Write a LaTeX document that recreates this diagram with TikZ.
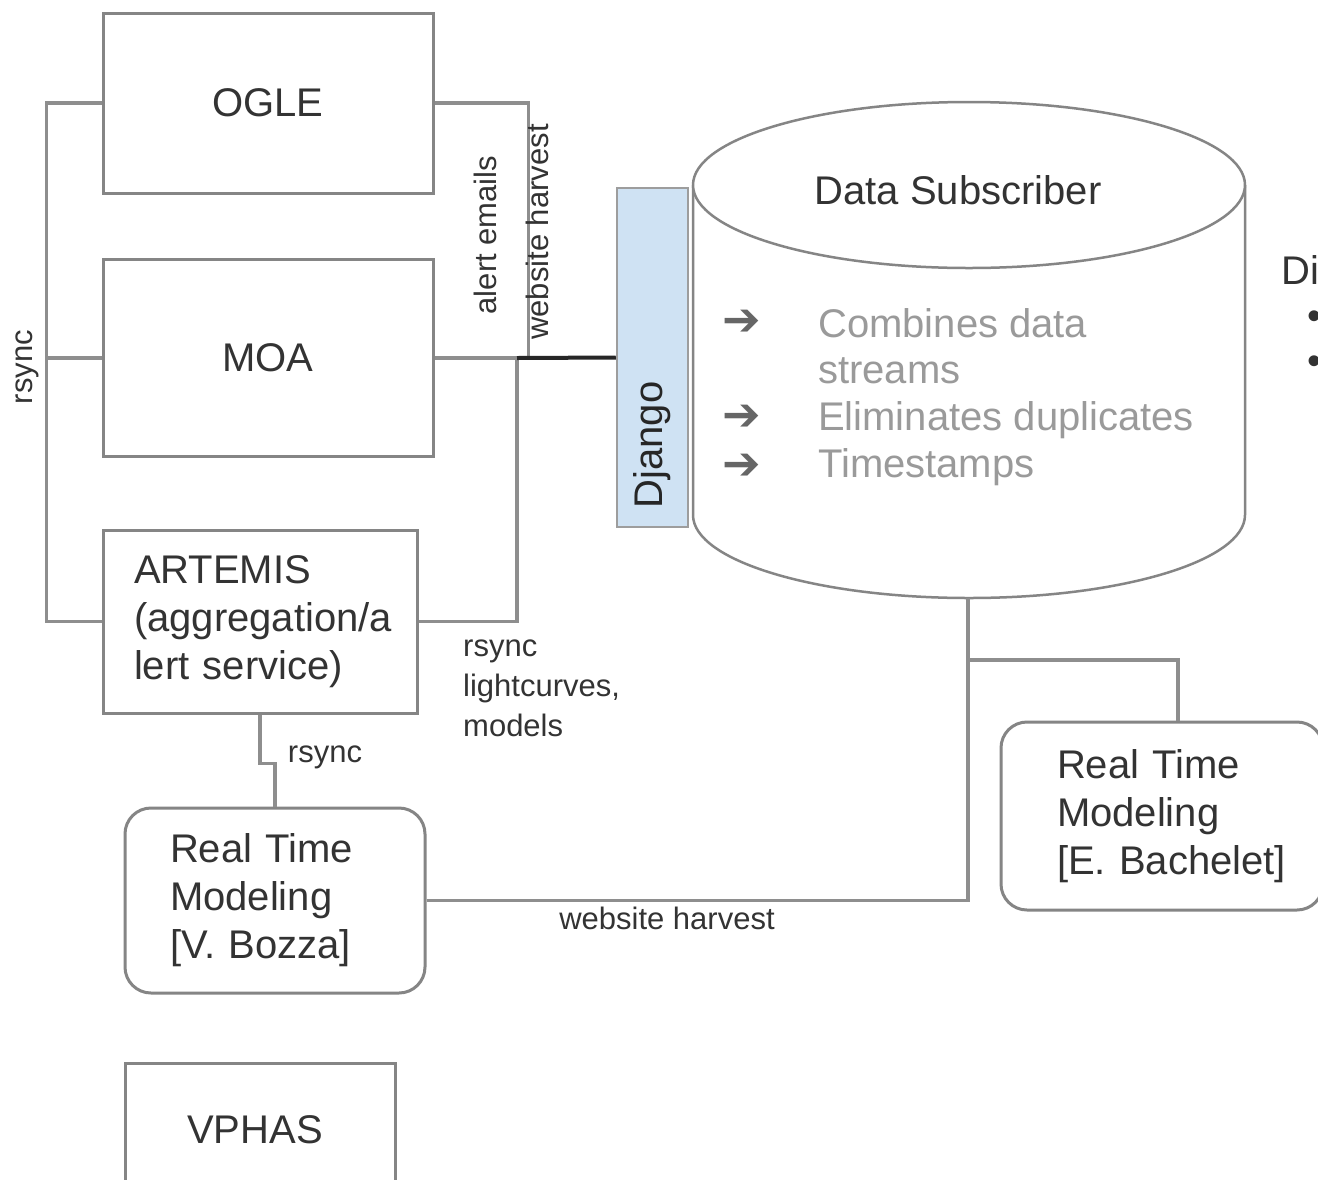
\documentclass[tikz,border=0pt]{standalone}
\usepackage{fontspec}
\setmainfont{Liberation Sans}
\newfontfamily\dejavu{DejaVu Sans}
\newcommand\dsbig{\fontsize{40}{48}\selectfont}
\newcommand\dssmall{\fontsize{31}{40}\selectfont}
\definecolor{boxgray}{HTML}{858585}
\definecolor{linegray}{HTML}{8E8E8E}
\definecolor{txt}{HTML}{333333}
\definecolor{lighttxt}{HTML}{9A9A9A}
\definecolor{djfill}{HTML}{CFE2F3}
\tikzset{
  box/.style={draw=boxgray, line width=3pt, fill=white, text=txt, font=\dsbig, inner sep=0pt},
  rbox/.style={box, rounded corners=26pt},
  conn/.style={draw=linegray, line width=3.5pt},
  blk/.style={draw=black!85, line width=4pt},
  lbl/.style={text=txt, font=\dssmall, inner sep=0pt},
  big/.style={text=txt, font=\dsbig, inner sep=0pt},
  bularrow/.style={text=black!60, font=\dejavu\fontsize{46}{50}\selectfont, inner sep=0pt},
}
\begin{document}
\begin{tikzpicture}[x=1pt, y=-1pt]
\useasboundingbox (0,0) rectangle (1318,1179);
\clip (0,0) rectangle (1318,1179);
\fill[white] (0,0) rectangle (1318,1179);

% source boxes
\node[box, minimum width=330pt, minimum height=180pt] (ogle) at (268,103) {OGLE};
\node[box, minimum width=330pt, minimum height=197pt] (moa) at (268,358) {MOA};
\node[box, minimum width=314pt, minimum height=183pt, align=left, text width=252pt, inner xsep=31pt] (artemis) at (260,621.5)
  {ARTEMIS\\(aggregation/a\\lert service)};
\node[rbox, minimum width=300pt, minimum height=185pt, align=left, text width=210pt, inner xsep=45pt] (bozza) at (275,900.5)
  {Real Time\\Modeling\\{[V. Bozza]}};
\node[rbox, minimum width=322pt, minimum height=188pt, align=left, text width=210pt, inner xsep=56pt] (bachelet) at (1162,816)
  {Real Time\\Modeling\\\mbox{[E. Bachelet]}};
\node[box, minimum width=270pt, minimum height=140pt] (vphas) at (260,1133) {};
\node[big] (vphastxt) at (255,1130) {VPHAS};

% cylinder (Data Subscriber)
\draw[draw=boxgray, line width=2.5pt, fill=white]
  (693,185) -- (693,515) arc[start angle=180, end angle=360, x radius=276pt, y radius=83pt] -- (1245,185);
\draw[draw=boxgray, line width=2.5pt, fill=white] (969,185) ellipse [x radius=276pt, y radius=83pt];
\coordinate (cylb) at (968,598);
\node[big] (ds) at (958,190) {Data Subscriber};

\node[bularrow] (a1) at (742,323) {➔};
\node[bularrow] (a2) at (742,418) {➔};
\node[bularrow] (a3) at (742,467) {➔};
\node[big, text=lighttxt, anchor=west] (b1) at (818,323) {Combines data};
\node[big, text=lighttxt, anchor=west] (b1b) at (818,371) {streams};
\node[big, text=lighttxt, anchor=west] (b2) at (818,420) {Eliminates duplicates};
\node[big, text=lighttxt, anchor=west] (b3) at (818,467) {Timestamps};

% Django
\node[draw=boxgray!80, line width=2.5pt, fill=djfill, minimum width=71pt, minimum height=339pt, inner sep=0pt] (django) at (652.5,357.5) {};
\node[big, text=black!85, rotate=90] (djtxt) at (652,445) {Django};

% clipped text at right edge
\node[big, anchor=west] (di) at (1281,270) {Di};
\node[big, anchor=west] (bu1) at (1307,320) {•};
\node[big, anchor=west] (bu2) at (1307,365) {•};

% connectors
\draw[conn] (ogle.west) -- ++(-55,0) |- (artemis.west);
\draw[conn] (moa.west) -- ++(-55,0);
\coordinate (mj) at (517,358);
\draw[conn] (ogle.east) -- ++(94,0) |- (moa.east);
\draw[conn] (moa.east) -- (mj);
\draw[conn] (artemis.east) -| (mj);
\draw[blk] (mj) -- (django.west);
\draw[conn] (artemis.south) -- ++(0,49) -| (bozza.north);
\draw[conn] (bozza.east) -| (cylb);
\coordinate (bj) at (968,660);
\draw[conn] (bj) -| ([xshift=16pt]bachelet.north);

% labels
\node[lbl, rotate=90] (rs1) at (27,367) {rsync};
\node[lbl, rotate=90] (ae) at (485,235) {alert emails};
\node[lbl, rotate=90] (wh1) at (537,232) {website harvest};
\node[lbl, anchor=north west, align=left] (rs2) at (463,640) {rsync\\lightcurves,\\models};
\node[lbl] (rs3) at (325,757) {rsync};
\node[lbl] (wh2) at (667,918) {website harvest};
\end{tikzpicture}
\end{document}
